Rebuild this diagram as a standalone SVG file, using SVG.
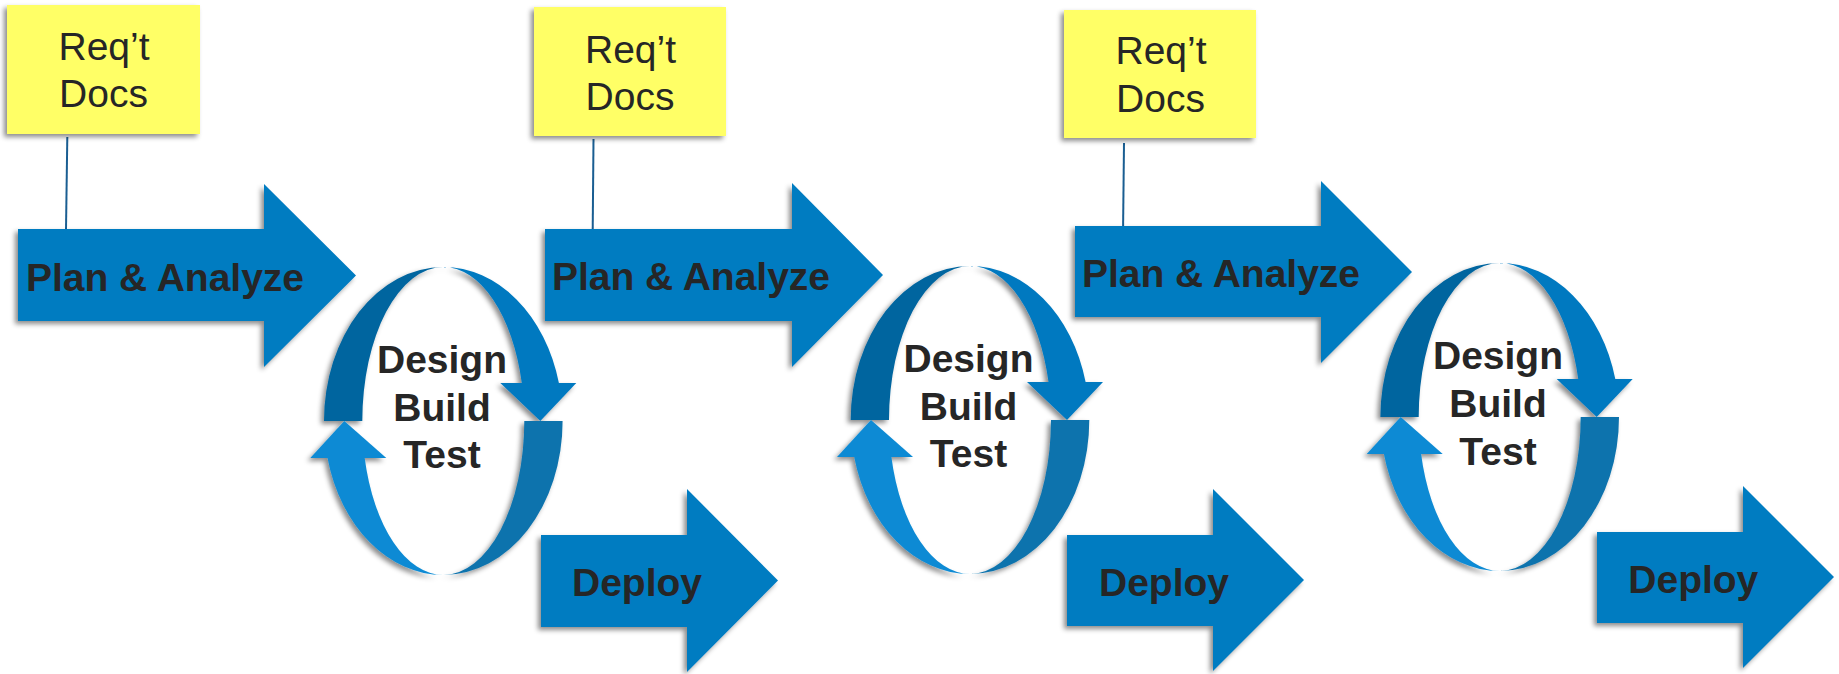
<svg xmlns="http://www.w3.org/2000/svg" width="1839" height="674" viewBox="0 0 1839 674">
<style>
.note{fill:#ffff66;}
.ntxt{font-family:"Liberation Sans",Arial,sans-serif;font-size:39px;fill:#262626;text-anchor:middle;}
.arrow{fill:#047bc1;}
.btxt{font-family:"Liberation Sans",Arial,sans-serif;font-size:39px;font-weight:bold;fill:#262626;text-anchor:middle;}
.dk{fill:#02659f;}
.tr{fill:#0479c0;}
.br{fill:#0e73ad;}
.bl{fill:#0b8ad4;}
.conn{stroke:#1a5e92;stroke-width:2;fill:none;}
</style>
<defs>
<filter id="sh" x="-20%" y="-20%" width="140%" height="140%">
<feDropShadow dx="-3" dy="3" stdDeviation="2.5" flood-color="#000" flood-opacity="0.45"/>
</filter>
<g id="ring">
<path class="dk" d="M-119.3,0 A119.3,154 0 0 1 0,-154 A81,154 0 0 0 -81,0 Z"/>
<path class="tr" d="M0,-154 A119.3,154 0 0 1 115.6,-38 L78.5,-38 A81,154 0 0 0 0,-154 Z"/>
<path class="tr" d="M57,-38 L133,-38 L97,0 Z"/>
<path class="br" d="M119.3,0 A119.3,154 0 0 1 0,154 A81,154 0 0 0 81,0 Z"/>
<path class="bl" d="M0,154 A119.3,154 0 0 1 -115.8,37 L-78.6,37 A81,154 0 0 0 0,154 Z"/>
<path class="bl" d="M-133,37 L-57,37 L-99,0 Z"/>
</g>
</defs>

<g id="connectors">
<line class="conn" x1="67.3" y1="137" x2="66" y2="230"/>
<line class="conn" x1="593.5" y1="139" x2="592.7" y2="231"/>
<line class="conn" x1="1124" y1="143" x2="1123" y2="235"/>
</g>

<!-- Set 1 -->
<g id="note1">
<rect class="note" x="7" y="5" width="193" height="129" filter="url(#sh)"/>
<text class="ntxt" x="104" y="60">Req’t</text>
<text class="ntxt" x="103.5" y="107">Docs</text>
</g>
<g id="plan1">
<path class="arrow" filter="url(#sh)" d="M18,229 H264 V184 L356,275.5 L264,367 V321 H18 Z"/>
<text class="btxt" x="165" y="290.5">Plan &amp; Analyze</text>
</g>
<g id="cycle1">
<use href="#ring" transform="translate(443.3,421)" filter="url(#sh)"/>
<text class="btxt" x="442" y="373">Design</text>
<text class="btxt" x="442" y="420.5">Build</text>
<text class="btxt" x="442" y="468">Test</text>
</g>
<g id="deploy1">
<path class="arrow" filter="url(#sh)" d="M541,535 H687 V489 L778,580.5 L687,672 V627 H541 Z"/>
<text class="btxt" x="637" y="596">Deploy</text>
</g>

<!-- Set 2 -->
<g id="note2">
<rect class="note" x="534" y="7" width="192" height="129" filter="url(#sh)"/>
<text class="ntxt" x="630.5" y="62.7">Req’t</text>
<text class="ntxt" x="630" y="110">Docs</text>
</g>
<g id="plan2">
<path class="arrow" filter="url(#sh)" d="M545,229 H792 V183 L883,275 L792,367 V321 H545 Z"/>
<text class="btxt" x="691" y="290">Plan &amp; Analyze</text>
</g>
<g id="cycle2">
<use href="#ring" transform="translate(970,420)" filter="url(#sh)"/>
<text class="btxt" x="968.5" y="372">Design</text>
<text class="btxt" x="968.5" y="419.5">Build</text>
<text class="btxt" x="968.5" y="467">Test</text>
</g>
<g id="deploy2">
<path class="arrow" filter="url(#sh)" d="M1067,535 H1213 V489 L1304,580 L1213,671 V626 H1067 Z"/>
<text class="btxt" x="1164" y="596">Deploy</text>
</g>

<!-- Set 3 -->
<g id="note3">
<rect class="note" x="1064" y="10" width="192" height="128" filter="url(#sh)"/>
<text class="ntxt" x="1161" y="64.3">Req’t</text>
<text class="ntxt" x="1160.5" y="111.7">Docs</text>
</g>
<g id="plan3">
<path class="arrow" filter="url(#sh)" d="M1075,226 H1321 V181 L1412,272 L1321,363 V317 H1075 Z"/>
<text class="btxt" x="1221" y="287">Plan &amp; Analyze</text>
</g>
<g id="cycle3">
<use href="#ring" transform="translate(1499.7,417)" filter="url(#sh)"/>
<text class="btxt" x="1498" y="368.5">Design</text>
<text class="btxt" x="1498" y="416.5">Build</text>
<text class="btxt" x="1498" y="464.5">Test</text>
</g>
<g id="deploy3">
<path class="arrow" filter="url(#sh)" d="M1597,532 H1743 V486 L1834,577 L1743,668 V623 H1597 Z"/>
<text class="btxt" x="1693.3" y="592.7">Deploy</text>
</g>
</svg>
